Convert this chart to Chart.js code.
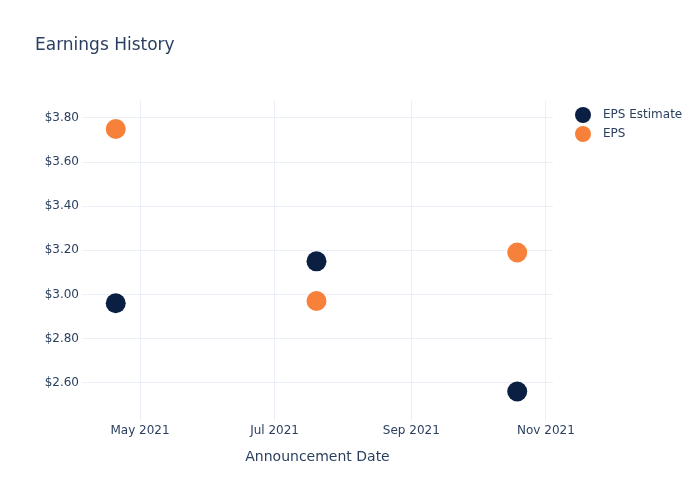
<!DOCTYPE html>
<html>
<head>
<meta charset="utf-8">
<script src="https://cdn.jsdelivr.net/npm/chart.js@4.4.0/dist/chart.umd.min.js"></script>
<style>
  body { margin: 0; background: #fff; }
</style>
</head>
<body>
<canvas id="myCanvas" width="700" height="500"></canvas>
<script>
// data
var dates = ['2021-04-20', '2021-07-20', '2021-10-19'];
var epsEstimate = [2.96, 3.15, 2.56];
var eps = [3.75, 2.97, 3.19];

var yTicks = [2.6, 2.8, 3.0, 3.2, 3.4, 3.6, 3.8];
var xTickDates = ['2021-05-01', '2021-07-01', '2021-09-01', '2021-11-01'];
var xTickLabels = ['May 2021', 'Jul 2021', 'Sep 2021', 'Nov 2021'];

var textColor = '#2a3f5f';
var gridColor = '#ebf0f8';
var fontFamily = '"DejaVu Sans", sans-serif';

function toTime(d) {
    return new Date(d).getTime();
}

function makePoints(values) {
    var pts = [];
    for (var i = 0; i < values.length; i++) {
        pts.push({ x: toTime(dates[i]), y: values[i] });
    }
    return pts;
}

// plotly-like legend on the right
var sideLegend = {
    id: 'sideLegend',
    afterDraw: function(chart) {
        var ctx = chart.ctx;
        ctx.save();
        ctx.font = '12px ' + fontFamily;
        ctx.textBaseline = 'middle';
        chart.data.datasets.forEach(function(ds, i) {
            var y = 115 + i * 19;
            ctx.fillStyle = ds.backgroundColor;
            ctx.beginPath();
            ctx.arc(583, y, 8, 0, Math.PI * 2);
            ctx.fill();
            ctx.fillStyle = textColor;
            ctx.fillText(ds.label, 603, y);
        });
        ctx.restore();
    }
};

var ctx = document.getElementById('myCanvas').getContext('2d');
var chart = new Chart(ctx, {
    type: 'scatter',
    data: {
        datasets: [{
            label: 'EPS Estimate',
            data: makePoints(epsEstimate),
            backgroundColor: '#0b1f42',
            borderWidth: 0,
            pointRadius: 10,
            pointHoverRadius: 10
        }, {
            label: 'EPS',
            data: makePoints(eps),
            backgroundColor: '#f7813a',
            borderWidth: 0,
            pointRadius: 10,
            pointHoverRadius: 10
        }]
    },
    options: {
        responsive: false,
        animation: false,
        layout: {
            padding: { left: 35, right: 147, top: 0, bottom: 0 }
        },
        plugins: {
            legend: { display: false },
            tooltip: { enabled: false },
            title: {
                display: true,
                text: 'Earnings History',
                align: 'start',
                color: textColor,
                font: { family: fontFamily, size: 17, weight: 'normal' },
                padding: { top: 35, bottom: 45.6 }
            }
        },
        scales: {
            x: {
                type: 'linear',
                min: toTime('2021-04-04T17:00:00Z'),
                max: toTime('2021-11-04T05:00:00Z'),
                grid: { color: gridColor, drawTicks: false },
                border: { display: false },
                ticks: {
                    color: textColor,
                    font: { family: fontFamily, size: 12 },
                    padding: 3,
                    maxRotation: 0,
                    callback: function(value) {
                        var idx = xTickDates.map(toTime).indexOf(value);
                        return idx >= 0 ? xTickLabels[idx] : '';
                    }
                },
                afterBuildTicks: function(scale) {
                    scale.ticks = xTickDates.map(function(d) { return { value: toTime(d) }; });
                },
                afterFit: function(scale) {
                    scale.height = 79.4;
                    scale.paddingLeft = 0;
                    scale.paddingRight = 0;
                },
                title: {
                    display: true,
                    text: 'Announcement Date',
                    color: textColor,
                    font: { family: fontFamily, size: 14 },
                    padding: { top: 0, bottom: 34 }
                }
            },
            y: {
                min: 2.428,
                max: 3.877,
                grid: { color: gridColor, drawTicks: false },
                border: { display: false },
                ticks: {
                    color: textColor,
                    font: { family: fontFamily, size: 12 },
                    padding: 3,
                    callback: function(value) {
                        return '$' + value.toFixed(2);
                    }
                },
                afterBuildTicks: function(scale) {
                    scale.ticks = yTicks.map(function(v) { return { value: v }; });
                },
                afterFit: function(scale) {
                    scale.width = 47;
                    scale.paddingTop = 0;
                    scale.paddingBottom = 0;
                }
            }
        }
    },
    plugins: [sideLegend]
});
</script>
</body>
</html>
